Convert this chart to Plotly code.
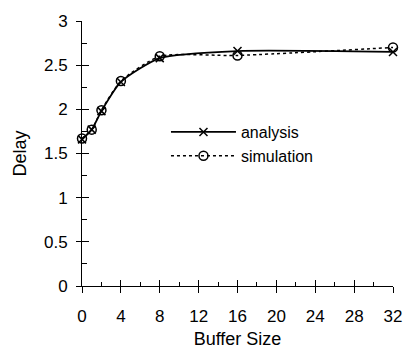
import plotly.graph_objects as go

buffer_size = [0, 1, 2, 4, 8, 16, 32]
analysis = [1.66, 1.77, 1.98, 2.31, 2.58, 2.66, 2.65]
simulation = [1.67, 1.77, 1.99, 2.32, 2.60, 2.61, 2.70]

x_ticks = [0, 4, 8, 12, 16, 20, 24, 28, 32]
x_minor = [2, 6, 10, 14, 18, 22, 26, 30]
y_ticks = [0, 0.5, 1, 1.5, 2, 2.5, 3]
y_labels = ["0", "0.5", "1", "1.5", "2", "2.5", "3"]
y_minor = [0.25, 0.75, 1.25, 1.75, 2.25, 2.75]

FONT = "Liberation Sans, Arial, sans-serif"

fig = go.Figure()
fig.add_trace(go.Scatter(
    x=buffer_size, y=analysis, name="analysis", mode="lines+markers",
    line=dict(color="black", width=1.8, shape="spline", smoothing=0.6),
    marker=dict(symbol="x-thin", size=8, line=dict(color="black", width=1.5)),
    cliponaxis=False,
))
fig.add_trace(go.Scatter(
    x=buffer_size, y=simulation, name="simulation", mode="lines+markers",
    line=dict(color="black", width=1.5, dash="dot", shape="spline", smoothing=0.6),
    marker=dict(symbol="circle-open", size=9, line=dict(color="black", width=1.5)),
    cliponaxis=False,
))

axis_common = dict(showgrid=False, zeroline=False, showline=True, linecolor="black",
                   linewidth=1, tickcolor="black",
                   tickfont=dict(family=FONT, size=17, color="black"))

fig.update_layout(
    width=414, height=357,
    margin=dict(l=82, r=16, t=16, b=70),
    plot_bgcolor="white", paper_bgcolor="white",
    font=dict(family=FONT, color="black"),
    xaxis=dict(range=[0, 32], tickvals=x_ticks, ticks="outside",
               ticklen=6, tickwidth=1, ticklabelstandoff=9,
               minor=dict(tickvals=x_minor, ticks="inside", ticklen=4, tickcolor="black"),
               title=dict(text="Buffer Size", font=dict(family=FONT, size=18), standoff=6),
               **axis_common),
    yaxis=dict(range=[0, 3], tickvals=y_ticks, ticktext=y_labels, ticks="outside",
               ticklen=5, tickwidth=1, ticklabelstandoff=5,
               minor=dict(tickvals=y_minor, ticks="inside", ticklen=5, tickcolor="black"),
               title=dict(text="Delay", font=dict(family=FONT, size=18), standoff=12),
               **axis_common),
    xaxis2=dict(overlaying="x", range=[0, 32], tickvals=x_ticks,
                ticks="inside", ticklen=6, tickcolor="black", showticklabels=False,
                showgrid=False, zeroline=False, showline=False, side="bottom"),
    yaxis2=dict(overlaying="y", range=[0, 3], tickvals=y_ticks,
                ticks="inside", ticklen=7, tickcolor="black", showticklabels=False,
                showgrid=False, zeroline=False, showline=False, side="left"),
    legend=dict(x=0.27, y=0.645, xanchor="left", yanchor="top", bgcolor="rgba(0,0,0,0)",
                font=dict(family=FONT, size=16), tracegroupgap=0, itemwidth=65),
    showlegend=True,
)
fig.add_trace(go.Scatter(x=[0], y=[0], xaxis="x2", yaxis="y2", mode="markers",
                         marker=dict(opacity=0), showlegend=False, hoverinfo="skip"))

fig.write_html("out.html")
